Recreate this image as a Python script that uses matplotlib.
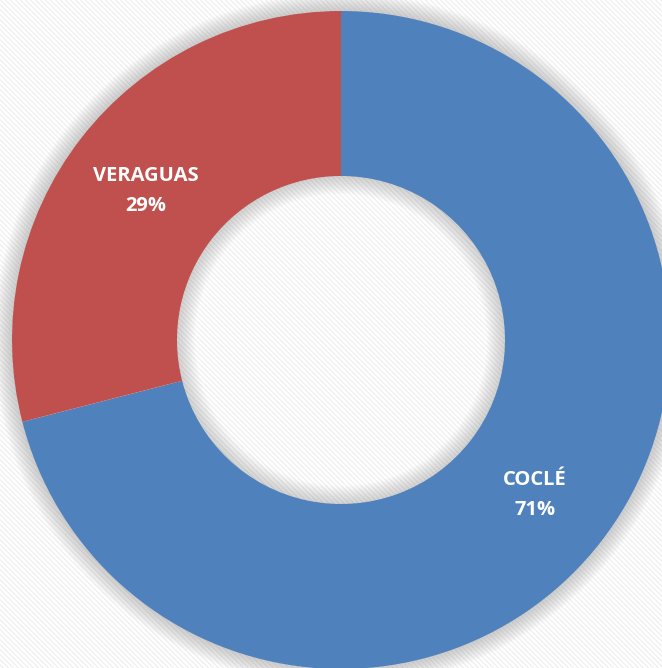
import matplotlib.pyplot as plt
import numpy as np
from matplotlib.patches import Circle

labels = ['COCLÉ', 'VERAGUAS']
values = [71, 29]
colors = ['#4f81bd', '#c0504d']

W, H = 662, 668
fig = plt.figure(figsize=(W / 100, H / 100), dpi=100)
ax = fig.add_axes([0, 0, 1, 1])

# striped background
rows, cols = np.mgrid[0:H, 0:W]
stripes = ((cols - rows) % 5 < 2).astype(float)
ax.imshow(stripes, extent=(0, W, 0, H), cmap='Greys', vmin=0, vmax=9,
          origin='upper', interpolation='nearest', zorder=0)

cx, cy = 341, H - 340
R, r_in = 329, 164

# soft glow around ring
for i in range(12):
    lw = 2 + i * 2.2
    ax.add_patch(Circle((cx, cy), R, fill=False, edgecolor='#808080',
                        linewidth=lw, alpha=0.035, zorder=1))
    ax.add_patch(Circle((cx, cy), r_in, fill=False, edgecolor='#808080',
                        linewidth=lw, alpha=0.03, zorder=1))

wedges, _ = ax.pie(values, colors=colors, startangle=90, counterclock=False,
                   radius=R, center=(cx, cy), frame=True,
                   wedgeprops=dict(width=R - r_in, linewidth=0))
for w in wedges:
    w.set_zorder(2)
ax.set_xlim(0, W)
ax.set_ylim(0, H)
ax.set_aspect('equal')
ax.axis('off')

pos = [(535, H - 495), (146, H - 191)]
for lab, v, (x, y) in zip(labels, values, pos):
    ax.text(x, y, f'{lab}\n{v}%', color='white', fontsize=14.5, fontweight='bold',
            family='Open Sans', ha='center', va='center', linespacing=1.65, zorder=3)

fig.savefig('out.png', dpi=100)
